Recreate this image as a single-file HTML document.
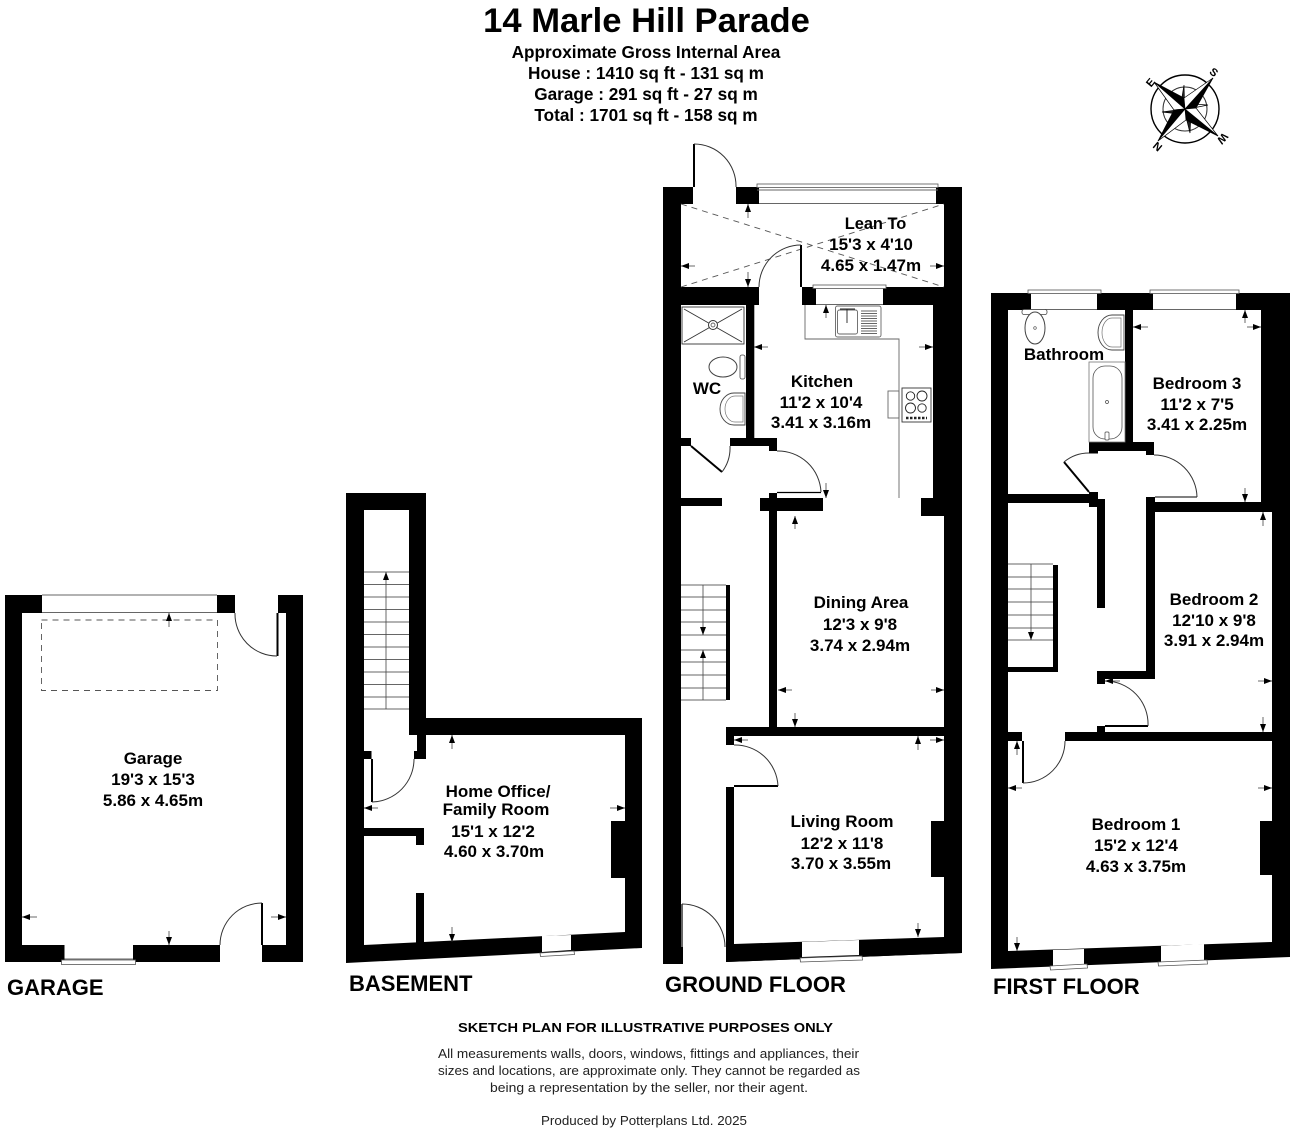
<!DOCTYPE html>
<html>
<head>
<meta charset="utf-8">
<style>
html,body{margin:0;padding:0;background:#fff;}
svg{display:block;}
text{font-family:"Liberation Sans",Arial,sans-serif;font-weight:bold;fill:#000;}
.t{text-anchor:middle;font-size:17px;}
.h{text-anchor:middle;font-size:17.2px;}
.f{font-size:22px;}
.n{text-anchor:middle;font-size:13px;font-weight:normal;fill:#222;}
.a{stroke:#444;stroke-width:.8;fill:none;marker-end:url(#ah);}
.d{stroke:#333;stroke-width:1;fill:none;}
.l{stroke:#000;stroke-width:2;fill:none;}
.s{stroke:#666;stroke-width:.9;fill:none;}
.w{stroke:#555;stroke-width:.8;fill:#fff;}
.dash{stroke:#555;stroke-width:.9;fill:none;stroke-dasharray:6 5;}
</style>
</head>
<body>
<svg width="1296" height="1136" viewBox="0 0 1296 1136" xmlns="http://www.w3.org/2000/svg">
<defs>
<marker id="ah" markerWidth="9" markerHeight="7" refX="8" refY="3" orient="auto" markerUnits="userSpaceOnUse">
<path d="M0 0L8 3L0 6z" fill="#000"/>
</marker>
</defs>
<rect width="1296" height="1136" fill="#fff"/>

<!-- Header -->
<text x="646.5" y="32" text-anchor="middle" font-size="34.6">14 Marle Hill Parade</text>
<text class="h" x="646" y="58">Approximate Gross Internal Area</text>
<text class="h" x="646" y="79">House : 1410 sq ft - 131 sq m</text>
<text class="h" x="646" y="100">Garage : 291 sq ft - 27 sq m</text>
<text class="h" x="646" y="121">Total : 1701 sq ft - 158 sq m</text>

<!-- Compass -->
<g>
<circle cx="1185" cy="109" r="34" fill="none" stroke="#000" stroke-width="1.4"/>
<circle cx="1185" cy="109" r="22" fill="none" stroke="#333" stroke-width="1"/>
<g stroke="#000" stroke-width=".7">
<polygon points="1185,109 1184.5,101 1184,85 1181,103" fill="#222"/>
<polygon points="1185,109 1193,108 1208,105 1191,104" fill="#fff"/>
<polygon points="1185,109 1186,117 1190,133 1191,114" fill="#222"/>
<polygon points="1185,109 1177,110 1162,112 1179,114" fill="#222"/>
<polygon points="1185,109 1184,98 1154,82" fill="#000"/>
<polygon points="1185,109 1174,110 1154,82" fill="#fff"/>
<polygon points="1185,109 1196,108 1213,78" fill="#000"/>
<polygon points="1185,109 1184,98 1213,78" fill="#fff"/>
<polygon points="1185,109 1186,120 1218,136" fill="#000"/>
<polygon points="1185,109 1196,108 1218,136" fill="#fff"/>
<polygon points="1185,109 1174,110 1158,141" fill="#000"/>
<polygon points="1185,109 1186,120 1158,141" fill="#fff"/>
</g>
<text x="1214" y="76" font-size="11" text-anchor="middle" transform="rotate(40 1214 72)">S</text>
<text x="1222" y="141" font-size="11" text-anchor="middle" transform="rotate(130 1222 138)">W</text>
<text x="1158" y="149" font-size="11" text-anchor="middle" transform="rotate(220 1158 146)">N</text>
<text x="1151" y="86" font-size="11" text-anchor="middle" transform="rotate(310 1151 83)">E</text>
</g>

<!-- GARAGE -->
<rect x="5" y="595" width="298" height="367" fill="#000"/>
<rect x="22" y="613" width="264" height="332" fill="#fff"/>
<rect x="235" y="595" width="43" height="18" fill="#fff"/>
<rect x="220" y="945" width="42" height="18" fill="#fff"/>
<rect x="42" y="595" width="175" height="18" fill="#fff"/>
<path class="s" d="M42 595H217M42 612.5H217"/>
<rect x="64.5" y="945" width="68.5" height="17" fill="#fff"/>
<path class="s" d="M64.5 959H133"/>
<rect class="w" x="61.5" y="960" width="74" height="4.5"/>
<path class="l" d="M277.5 613V656M262 945V903"/>
<path class="d" d="M235 613A42 42 0 0 0 277 656M220 945A42 42 0 0 1 262 903"/>
<rect class="dash" x="41.5" y="620" width="176" height="70.5"/>
<line class="a" x1="169" y1="627" x2="169" y2="613"/>
<line class="a" x1="37" y1="917" x2="22" y2="917"/>
<line class="a" x1="271" y1="917" x2="286" y2="917"/>
<line class="a" x1="169" y1="931" x2="169" y2="945"/>
<text class="t" x="153" y="764">Garage</text>
<text class="t" x="153" y="785">19'3 x 15'3</text>
<text class="t" x="153" y="806">5.86 x 4.65m</text>
<text class="f" x="7" y="995">GARAGE</text>

<!-- BASEMENT -->
<polygon points="346,493 426,493 426,718 642,718 642,948 346,963" fill="#000"/>
<polygon points="364,510 409,510 409,735 625,735 625,932 364,945" fill="#fff"/>
<rect x="417" y="735" width="9" height="18" fill="#000"/>
<rect x="414" y="751" width="12" height="8" fill="#000"/>
<rect x="364" y="751" width="7.5" height="8" fill="#000"/>
<rect x="364" y="828" width="60" height="8" fill="#000"/>
<rect x="416" y="836" width="8" height="9" fill="#000"/>
<polygon points="416,893 424,893 424,943 416,944" fill="#000"/>
<rect x="611" y="821" width="14" height="57" fill="#000"/>
<polygon points="542,936 571,935 571,950 542,952" fill="#fff"/>
<polygon class="w" points="540,953 574,951 574.5,954.5 540.5,956.5"/>
<path class="l" d="M372 759V802"/>
<path class="d" d="M414 759A43 43 0 0 1 372 802"/>
<path class="s" d="M364 572H409M364 584.5H409M364 597H409M364 609.5H409M364 622H409M364 634.5H409M364 647H409M364 659.5H409M364 672H409M364 684.5H409M364 697H409M364 709H409"/>
<line class="a" x1="386" y1="709" x2="386" y2="572"/>
<line class="a" x1="452" y1="749" x2="452" y2="735"/>
<line class="a" x1="378" y1="808" x2="364" y2="808"/>
<line class="a" x1="610" y1="808" x2="625" y2="808"/>
<line class="a" x1="452" y1="927" x2="452" y2="942"/>
<text class="t" x="498" y="797">Home Office/</text>
<text class="t" x="496" y="815">Family Room</text>
<text class="t" x="493" y="837">15'1 x 12'2</text>
<text class="t" x="494" y="857">4.60 x 3.70m</text>
<text class="f" x="349" y="991">BASEMENT</text>

<!-- GROUND FLOOR -->
<polygon points="663,187 962,187 962,953 726,962 683,964 663,964" fill="#000"/>
<polygon points="681,204 944,204 944,953 726,953 726,966 683,966 683,947 681,947" fill="#fff"/>
<rect x="693" y="187" width="43" height="17" fill="#fff"/>
<rect x="759" y="187" width="177" height="17" fill="#fff"/>
<path class="s" d="M757 190H938M759 203.5H936"/>
<rect class="w" x="757" y="184" width="181" height="3.5"/>
<polygon points="726,787 734,787 734,944 944,937 962,937 962,953 726,962" fill="#000"/>
<polygon points="802,942 859,940 859,955 802,957" fill="#fff"/>
<polygon class="w" points="800,958 862,956 862.5,960 800.5,962"/>
<rect x="681" y="287" width="78" height="18" fill="#000"/>
<rect x="802" y="287" width="14" height="18" fill="#000"/>
<rect x="883" y="287" width="61" height="18" fill="#000"/>
<rect class="w" x="813" y="285" width="73" height="3.5"/>
<path class="s" d="M816 304.5H883"/>
<rect x="933" y="287" width="11" height="211" fill="#000"/>
<rect x="921" y="498" width="23" height="18" fill="#000"/>
<rect x="746" y="305" width="8.3" height="133" fill="#000"/>
<rect x="681" y="438" width="10" height="8" fill="#000"/>
<rect x="730" y="438" width="47" height="8" fill="#000"/>
<rect x="769" y="446" width="8" height="5" fill="#000"/>
<rect x="681" y="498" width="41" height="8" fill="#000"/>
<rect x="760" y="498" width="63" height="13" fill="#000"/>
<rect x="769" y="493" width="8" height="234" fill="#000"/>
<rect x="726" y="727" width="218" height="9" fill="#000"/>
<rect x="726" y="736" width="8" height="9" fill="#000"/>
<rect x="726" y="585" width="4" height="115" fill="#000"/>
<rect x="931" y="821" width="13" height="56" fill="#000"/>
<!-- lean to dashed -->
<path class="dash" d="M681 204L944 287M681 287L944 204"/>
<!-- doors -->
<path class="l" d="M694 187V144M801 287V245M691 446L722 472M734 786H778"/>
<path class="l" style="stroke-width:1.2" d="M682 904V947M777 492.5H821"/>
<path class="d" d="M694 144A42 42 0 0 1 736 187M759 287A42 42 0 0 1 801 245M722 472A40 40 0 0 0 730 446M777 451A43 43 0 0 1 821 492M734 745A43 43 0 0 1 778 786M682 904A43 43 0 0 1 725 947"/>
<!-- worktop -->
<path class="s" d="M805 305V339H899V498"/>
<rect class="s" x="888" y="391" width="11" height="27"/>
<rect class="s" x="835.5" y="306" width="45.5" height="31" rx="2"/>
<rect class="s" x="837.5" y="310" width="20" height="24" rx="2"/>
<path class="s" d="M861 311H877M861 313.5H877M861 316H877M861 318.5H877M861 321H877M861 323.5H877M861 326H877M861 328.5H877M861 331H877M861 333.5H877"/>
<path class="s" d="M847 309V323M840 309H855" style="stroke:#222"/>
<rect class="s" x="902" y="388" width="29" height="34" style="stroke:#333"/>
<circle class="s" cx="910.5" cy="396" r="4.2" style="stroke:#222"/>
<circle class="s" cx="922" cy="396" r="5" style="stroke:#222"/>
<circle class="s" cx="910.5" cy="408" r="5" style="stroke:#222"/>
<circle class="s" cx="922" cy="408" r="4.2" style="stroke:#222"/>
<path class="s" d="M906 418H927" style="stroke:#222;stroke-width:2.4;stroke-dasharray:2.5 1.5"/>
<!-- shower -->
<rect class="s" x="682" y="307" width="62" height="37" style="stroke:#333"/>
<path class="s" d="M684 309L742 342M742 309L684 342" style="stroke:#333"/>
<circle cx="713" cy="325" r="4.5" fill="#fff" stroke="#333"/>
<circle cx="713" cy="325" r="2" fill="#fff" stroke="#333" stroke-width=".7"/>
<!-- wc -->
<ellipse cx="723" cy="367" rx="14" ry="10" fill="#fff" stroke="#444"/>
<rect x="740" y="355" width="5" height="24" rx="2" fill="#fff" stroke="#444" stroke-width=".8"/>
<path d="M745 393H734A14 16 0 1 0 734 425H745Z" fill="#fff" stroke="#444" stroke-width=".9"/>
<path d="M743 396H735A10 13 0 1 0 735 422H743Z" fill="#fff" stroke="#777" stroke-width=".7"/>
<!-- stairs -->
<path class="s" d="M681 585H726M681 597H726M681 610H726M681 622H726M681 635H726M681 650H726M681 662H726M681 675H726M681 688H726M681 700H726"/>
<line class="a" x1="703" y1="585" x2="703" y2="635"/>
<line class="a" x1="703" y1="700" x2="703" y2="650"/>
<!-- arrows -->
<line class="a" x1="748" y1="218" x2="748" y2="204"/>
<line class="a" x1="748" y1="272" x2="748" y2="287"/>
<line class="a" x1="695" y1="266" x2="681" y2="266"/>
<line class="a" x1="930" y1="266" x2="944" y2="266"/>
<line class="a" x1="826" y1="318" x2="826" y2="305"/>
<line class="a" x1="768" y1="347" x2="754" y2="347"/>
<line class="a" x1="919" y1="347" x2="933" y2="347"/>
<line class="a" x1="826" y1="483" x2="826" y2="498"/>
<line class="a" x1="795" y1="529" x2="795" y2="516"/>
<line class="a" x1="792" y1="690" x2="778" y2="690"/>
<line class="a" x1="931" y1="690" x2="944" y2="690"/>
<line class="a" x1="795" y1="713" x2="795" y2="727"/>
<line class="a" x1="748" y1="740" x2="734" y2="740"/>
<line class="a" x1="918" y1="750" x2="918" y2="736"/>
<line class="a" x1="930" y1="740" x2="944" y2="740"/>
<line class="a" x1="918" y1="923" x2="918" y2="937"/>
<text class="t" x="875.5" y="229" style="font-size:16.4px">Lean To</text>
<text class="t" x="871" y="250">15'3 x 4'10</text>
<text class="t" x="871" y="271">4.65 x 1.47m</text>
<text class="t" x="822" y="387">Kitchen</text>
<text class="t" x="821" y="408">11'2 x 10'4</text>
<text class="t" x="821" y="428">3.41 x 3.16m</text>
<text class="t" x="707" y="394">WC</text>
<text class="t" x="861" y="608">Dining Area</text>
<text class="t" x="860" y="630">12'3 x 9'8</text>
<text class="t" x="860" y="651">3.74 x 2.94m</text>
<text class="t" x="842" y="827">Living Room</text>
<text class="t" x="842" y="849">12'2 x 11'8</text>
<text class="t" x="841" y="869">3.70 x 3.55m</text>
<text class="f" x="665" y="992">GROUND FLOOR</text>

<!-- FIRST FLOOR -->
<polygon points="991,293 1290,293 1290,957 991,969" fill="#000"/>
<polygon points="1008,310 1261,310 1261,512 1272,512 1272,942 1008,951" fill="#fff"/>
<rect x="1031" y="293" width="66" height="17" fill="#fff"/>
<rect x="1153" y="293" width="83" height="17" fill="#fff"/>
<path class="s" d="M1031 309.5H1097M1153 309.5H1236"/>
<rect class="w" x="1028" y="290" width="73" height="3.5"/>
<rect class="w" x="1150" y="290" width="89" height="3.5"/>
<polygon points="1053,950 1084,949 1084,964 1053,966" fill="#fff"/>
<polygon class="w" points="1050,966 1087,964 1087.5,968 1050.5,970"/>
<polygon points="1161,946 1204,944 1204,960 1161,962" fill="#fff"/>
<polygon class="w" points="1158,962 1207,960 1207.5,964 1158.5,966"/>
<rect x="1125" y="310" width="8" height="132" fill="#000"/>
<rect x="1089" y="442" width="65" height="9" fill="#000"/>
<rect x="1089" y="451" width="9" height="2.5" fill="#000"/>
<rect x="1146" y="451" width="8" height="4" fill="#000"/>
<rect x="1008" y="494" width="90" height="9" fill="#000"/>
<rect x="1089" y="492" width="9" height="15" fill="#000"/>
<rect x="1097" y="499" width="8" height="109" fill="#000"/>
<rect x="1146" y="497" width="9" height="182" fill="#000"/>
<rect x="1155" y="502" width="117" height="10" fill="#000"/>
<rect x="1097" y="671" width="57" height="8" fill="#000"/>
<rect x="1097" y="679" width="8" height="5" fill="#000"/>
<rect x="1097" y="726" width="8" height="6" fill="#000"/>
<rect x="1065" y="732" width="207" height="9" fill="#000"/>
<rect x="1008" y="732" width="14" height="9" fill="#000"/>
<rect x="1053" y="565" width="5" height="107" fill="#000"/>
<rect x="1008" y="667" width="50" height="5" fill="#000"/>
<rect x="1260" y="821" width="12" height="54" fill="#000"/>
<path class="s" d="M1008 564H1053M1008 577H1053M1008 589H1053M1008 602H1053M1008 615H1053M1008 628H1053M1008 640H1053"/>
<line class="a" x1="1031" y1="564" x2="1031" y2="640"/>
<path class="l" d="M1089 492L1064 462M1105 726H1148M1023 741V783"/>
<path class="l" style="stroke-width:1.1" d="M1155 497H1197"/>
<path class="d" d="M1064 462A39 39 0 0 1 1089 453M1154 455A43 43 0 0 1 1197 497M1105 681A43 43 0 0 1 1148 726M1065 741A42 42 0 0 1 1023 783"/>
<!-- sanitary -->
<rect x="1022" y="309.5" width="25" height="5" rx="2" fill="#fff" stroke="#444" stroke-width=".8"/>
<ellipse cx="1035" cy="328" rx="10" ry="16" fill="#fff" stroke="#444"/>
<circle cx="1035" cy="328" r="1.3" fill="#fff" stroke="#444" stroke-width=".6"/>
<path d="M1124 315H1112A14 17.5 0 1 0 1112 350H1124Z" fill="#fff" stroke="#444" stroke-width=".9"/>
<path d="M1121 318H1112A10 14.5 0 1 0 1112 347H1121Z" fill="#fff" stroke="#777" stroke-width=".7"/>
<rect x="1089" y="362" width="36" height="80" fill="#fff" stroke="#777" stroke-width=".8"/>
<rect x="1093" y="366" width="29" height="73" rx="12" fill="#fff" stroke="#555" stroke-width=".8"/>
<circle cx="1107" cy="402" r="1.5" fill="#fff" stroke="#444" stroke-width=".7"/>
<rect x="1105" y="432" width="4" height="8" rx="1" fill="#fff" stroke="#444" stroke-width=".7"/>
<!-- arrows -->
<line class="a" x1="1148" y1="327" x2="1133" y2="327"/>
<line class="a" x1="1245" y1="323" x2="1245" y2="310"/>
<line class="a" x1="1247" y1="327" x2="1261" y2="327"/>
<line class="a" x1="1245" y1="488" x2="1245" y2="502"/>
<line class="a" x1="1263" y1="526" x2="1263" y2="512"/>
<line class="a" x1="1120" y1="681" x2="1105" y2="681"/>
<line class="a" x1="1258" y1="681" x2="1272" y2="681"/>
<line class="a" x1="1263" y1="717" x2="1263" y2="732"/>
<line class="a" x1="1017" y1="755" x2="1017" y2="741"/>
<line class="a" x1="1022" y1="788" x2="1008" y2="788"/>
<line class="a" x1="1258" y1="788" x2="1272" y2="788"/>
<line class="a" x1="1017" y1="937" x2="1017" y2="951"/>
<text class="t" x="1064" y="360">Bathroom</text>
<text class="t" x="1197" y="389">Bedroom 3</text>
<text class="t" x="1197" y="410">11'2 x 7'5</text>
<text class="t" x="1197" y="430">3.41 x 2.25m</text>
<text class="t" x="1214" y="605">Bedroom 2</text>
<text class="t" x="1214" y="626">12'10 x 9'8</text>
<text class="t" x="1214" y="646">3.91 x 2.94m</text>
<text class="t" x="1136" y="830">Bedroom 1</text>
<text class="t" x="1136" y="851">15'2 x 12'4</text>
<text class="t" x="1136" y="872">4.63 x 3.75m</text>
<text class="f" x="993" y="994">FIRST FLOOR</text>

<!-- Footer -->
<text x="645.5" y="1032" text-anchor="middle" font-size="13" textLength="375" lengthAdjust="spacingAndGlyphs">SKETCH PLAN FOR ILLUSTRATIVE PURPOSES ONLY</text>
<text class="n" x="648.5" y="1058" textLength="421" lengthAdjust="spacingAndGlyphs">All measurements walls, doors, windows, fittings and appliances, their</text>
<text class="n" x="649" y="1075" textLength="422" lengthAdjust="spacingAndGlyphs">sizes and locations, are approximate only. They cannot be regarded as</text>
<text class="n" x="649" y="1092" textLength="318" lengthAdjust="spacingAndGlyphs">being a representation by the seller, nor their agent.</text>
<text class="n" x="644" y="1125" textLength="206" lengthAdjust="spacingAndGlyphs">Produced by Potterplans Ltd. 2025</text>
</svg>
</body>
</html>
